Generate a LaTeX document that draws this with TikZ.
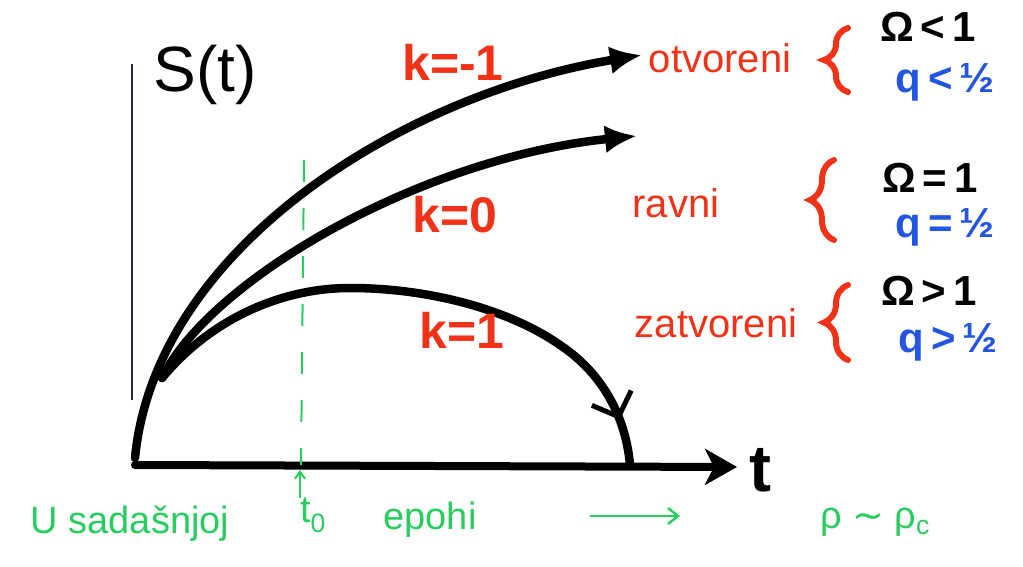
\documentclass[tikz,border=0pt]{standalone}
\usepackage{fontspec}
\setmainfont{Liberation Sans}
\newfontfamily\symfont{DejaVu Sans}
\usepackage{xcolor}
\usetikzlibrary{arrows.meta,decorations.pathreplacing,decorations.markings}

\definecolor{penred}{RGB}{240,50,25}
\definecolor{penblue}{RGB}{35,85,225}
\definecolor{pengreen}{RGB}{40,205,95}
\definecolor{axisnavy}{RGB}{40,40,80}

\begin{document}
\begin{tikzpicture}[
    x=1pt, y=-1pt,
    curve/.style={line width=8.5pt, line cap=round, black},
    kval/.style={inner sep=0pt, text=penred, font=\fontsize{50}{50}\selectfont\bfseries},
    kind/.style={inner sep=0pt, text=penred, font=\fontsize{40}{40}\selectfont},
    cbrace/.style={draw=penred, line width=6pt, line cap=round, decorate, decoration={brace, amplitude=24pt}},
    omega/.style={inner sep=0pt, text=black, font=\fontsize{42}{42}\selectfont\bfseries},
    qval/.style={inner sep=0pt, text=penblue, font=\fontsize{42}{42}\selectfont\bfseries},
    note/.style={inner sep=0pt, text=pengreen, font=\fontsize{38}{38}\selectfont}
]
\useasboundingbox (0,0) rectangle (1023,567);

% Axes
\coordinate (origin) at (135,465);
\coordinate (tend) at (737,467);
\coordinate (sbottom) at (132,400);
\coordinate (stop) at (132,64);
\draw[axisnavy, line width=1.5pt] (sbottom) -- (stop);
\draw[line width=8pt, line cap=round, -{Stealth[length=32pt,width=36pt,inset=9pt]}] (origin) -- (tend);
\node[inner sep=0pt, font=\fontsize{66}{66}\selectfont\bfseries] (tlabel) at (760,470) {t};
\node[inner sep=0pt, font=\fontsize{64}{64}\selectfont] (slabel) at (205,75) {S(t)};

% Present epoch
\coordinate (nowtop) at (304,160);
\coordinate (nowbot) at (301,465);
\coordinate (nowfoot) at (300,498);
\coordinate (nowhead) at (300,470);
\draw[pengreen, line width=2pt, dash pattern=on 22pt off 26pt] (nowtop) -- (nowbot);
\draw[pengreen, line width=2pt, -{Straight Barb[length=7pt,width=10pt]}] (nowfoot) -- (nowhead);

% Curves
\coordinate (start) at (135,458);
\coordinate (branch) at (162,378);
\coordinate (open) at (642,55);
\coordinate (flat) at (637,136);
\coordinate (peak) at (350,288);
\coordinate (bend) at (560,345);
\coordinate (crunch) at (630,465);
\draw[curve, -{Latex[length=32pt,width=28pt]}] (start) .. controls (155,250) and (400,95) .. (open);
\draw[curve, -{Latex[length=32pt,width=28pt]}] (branch) .. controls (210,280) and (420,158) .. (flat);
\draw[curve, postaction={decorate}, decoration={markings,
    mark=at position 0.92 with {\arrow{Straight Barb[length=20pt,width=42pt,line width=5pt]}}}]
    (branch) .. controls (210,320) and (280,288) .. (peak)
    .. controls (430,288) and (510,310) .. (bend)
    .. controls (605,375) and (626,420) .. (crunch);

% Curvature labels
\node[kval] (kneg) at (453,62) {k=-1};
\node[kval] (kzero) at (455,215) {k=0};
\node[kval] (kpos) at (462,330) {k=1};
\node[kind] (otv) at (720,58) {otvoreni};
\node[kind] (rav) at (676,203) {ravni};
\node[kind] (zat) at (716,323) {zatvoreni};

% Braces
\draw[cbrace] (848,92) -- (848,28);
\draw[cbrace] (834,240) -- (834,160);
\draw[cbrace] (848,360) -- (848,285);

% Conditions
\node[omega] (om1) at (928,27) {Ω\,<\,1};
\node[qval] (q1) at (945,82) {q\,<\,½};
\node[omega] (om2) at (930,178) {Ω\,=\,1};
\node[qval] (q2) at (945,227) {q\,=\,½};
\node[omega] (om3) at (929,291) {Ω\,>\,1};
\node[qval] (q3) at (948,342) {q\,>\,½};

% Bottom note
\node[note] (sad) at (130,524) {U sadašnjoj};
\node[note] (tnull) at (313,515) {t\textsubscript{0}};
\node[note] (epo) at (430,520) {epohi};
\coordinate (arrtail) at (590,516);
\coordinate (arrhead) at (680,516);
\draw[pengreen, line width=2.5pt, -{Straight Barb[length=10pt,width=16pt]}] (arrtail) -- (arrhead);
\node[note] (rho) at (875,522) {ρ {\symfont ∼} ρ\textsubscript{c}};

\end{tikzpicture}
\end{document}
